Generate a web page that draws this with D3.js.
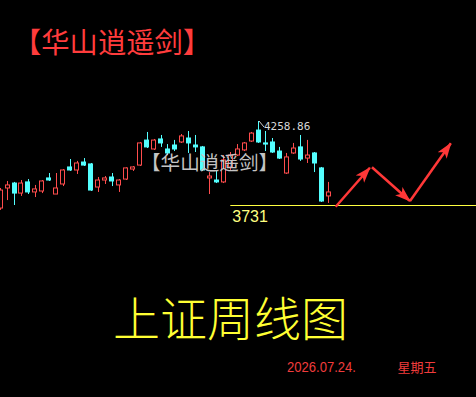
<!DOCTYPE html>
<html lang="zh">
<head>
<meta charset="utf-8">
<script src="https://cdnjs.cloudflare.com/ajax/libs/d3/7.8.5/d3.min.js"></script>
<style>
  html, body { margin: 0; padding: 0; background: #000; }
  svg { display: block; }
</style>
</head>
<body>
<div id="chart"></div>
<script>
  // weekly candles, oldest first
  const opens  = [3712,3838,3869,3806,3876,3813,3819,3901,3800,3863,3970,3951,4001,3989,3844,3888,3907,3857,3894,3957,3982,4139,4083,4146,
                  4083,4108,4127,4152,4108,4096,3901,3888,3876,3970,4045,4077,4133,4202,4121,4127,4070,3932,4058,4096,4026,4058,3964,3788];
  const closes = [3825,3857,3806,3869,3813,3832,3882,3888,3838,3951,3951,3995,3982,3825,3888,3901,3882,3888,3964,3970,4121,4096,4139,4121,
                  4058,4083,4165,4121,4096,3951,3913,3876,4014,4045,4083,4121,4183,4127,4114,4064,4026,4033,4089,4020,4045,3995,3756,3813];
  const highs  = [3838,3882,3876,3888,3894,3857,3888,3932,3932,3957,4020,4008,4026,3995,3907,3913,3932,3894,3968,3976,4127,4190,4146,4171,
                  4114,4140,4177,4196,4171,4102,3938,3951,4045,4064,4114,4127,4190,4258.86,4196,4152,4096,4058,4121,4171,4140,4064,3970,3876];
  const lows   = [3700,3762,3731,3788,3800,3781,3806,3882,3800,3850,3945,3926,3976,3819,3813,3863,3850,3813,3888,3945,3976,4089,4077,4096,
                  4045,4070,4121,4058,4064,3945,3800,3869,3869,3951,4039,4070,4127,4121,4070,4058,4020,3926,4052,4008,3995,3938,3750,3744];

  const supportLevel = 3731;
  const peakLevel = 4258.86;
  const peakIndex = 37;

  // hand-drawn forecast arrows, in candle index / price units
  const arrows = [
    { from: [48.1, 3720], to: [53.0, 3965] },
    { from: [53.3, 3968], to: [58.75, 3756] },
    { from: [58.75, 3756], to: [64.6, 4119] }
  ];

  const titleText = "【华山逍遥剑】";
  const chartName = "上证周线图";
  const dateText = "2026.07.24.";
  const weekdayText = "星期五";

  const width = 476, height = 397;
  const svg = d3.select("#chart").append("svg").attr("width", width).attr("height", height);
  svg.append("rect").attr("width", width).attr("height", height).attr("fill", "#000");

  const x = d3.scaleLinear().domain([0, 47]).range([0, 328]);
  const y = d3.scaleLinear().domain([supportLevel, peakLevel]).range([205, 121]);
  const bodyW = (x(1) - x(0)) * 0.7;

  const UP = "#ff4d4d", DOWN = "#54ffff";

  const candles = opens.map(function(o, i){
    return { i: i, open: o, close: closes[i], high: highs[i], low: lows[i], up: closes[i] >= o };
  });

  const cg = svg.append("g").attr("id", "candles");

  cg.selectAll(".wick")
    .data(candles)
    .enter()
    .append("line")
    .attr("class", "wick")
    .attr("x1", function(d){return Math.round(x(d.i)) + 0.5;})
    .attr("x2", function(d){return Math.round(x(d.i)) + 0.5;})
    .attr("y1", function(d){return y(d.high);})
    .attr("y2", function(d){return y(d.low);})
    .attr("stroke", function(d){return d.up ? UP : DOWN;})
    .attr("stroke-width", 1);

  cg.selectAll(".body")
    .data(candles)
    .enter()
    .append("rect")
    .attr("class", "body")
    .attr("x", function(d){return Math.round(x(d.i) - bodyW / 2) + 0.5;})
    .attr("y", function(d){return y(Math.max(d.open, d.close));})
    .attr("width", Math.round(bodyW) - 1)
    .attr("height", function(d){return Math.max(1, Math.abs(y(d.open) - y(d.close)));})
    .attr("fill", function(d){return d.up ? "#000" : DOWN;})
    .attr("stroke", function(d){return d.up ? UP : DOWN;})
    .attr("stroke-width", 1);

  // peak marker
  svg.append("line")
    .attr("x1", Math.round(x(peakIndex)) + 1).attr("y1", y(peakLevel))
    .attr("x2", Math.round(x(peakIndex)) + 6).attr("y2", y(peakLevel) + 6)
    .attr("stroke", "#d0d0d0").attr("stroke-width", 1);
  svg.append("text")
    .attr("x", Math.round(x(peakIndex)) + 6).attr("y", y(peakLevel) + 9)
    .attr("fill", "#d8d8d8")
    .style("font-family", "DejaVu Sans Mono")
    .style("font-size", "11px")
    .text(peakLevel.toFixed(2));

  // support line
  svg.append("line")
    .attr("x1", x(33)).attr("x2", width)
    .attr("y1", Math.round(y(supportLevel)) + 0.5).attr("y2", Math.round(y(supportLevel)) + 0.5)
    .attr("stroke", "#ffff40").attr("stroke-width", 1);
  svg.append("text")
    .attr("x", x(33) + 2).attr("y", y(supportLevel) + 17)
    .attr("fill", "#ffff80")
    .style("font-family", "Liberation Sans, Arial")
    .style("font-size", "16px")
    .text(supportLevel);

  // arrows
  const defs = svg.append("defs");
  defs.append("marker")
    .attr("id", "head")
    .attr("markerUnits", "userSpaceOnUse")
    .attr("viewBox", "0 -6 16 12")
    .attr("refX", 15).attr("refY", 0)
    .attr("markerWidth", 16).attr("markerHeight", 12)
    .attr("orient", "auto")
    .append("path")
    .attr("d", "M0,-5.5L16,0L0,5.5L4,0Z")
    .attr("fill", "#ff3838");

  svg.selectAll(".arrow")
    .data(arrows)
    .enter()
    .append("line")
    .attr("class", "arrow")
    .attr("x1", function(d){return x(d.from[0]);})
    .attr("y1", function(d){return y(d.from[1]);})
    .attr("x2", function(d){return x(d.to[0]);})
    .attr("y2", function(d){return y(d.to[1]);})
    .attr("stroke", "#ff3838")
    .attr("stroke-width", 2.5)
    .attr("marker-end", "url(#head)");

  // watermark over the candles
  svg.append("text")
    .attr("x", 141).attr("y", 170)
    .attr("fill", "#c4c4c4")
    .style("font-family", "Noto Sans CJK SC")
    .style("font-size", "19.6px")
    .text(titleText);

  svg.append("text")
    .attr("x", 13).attr("y", 53)
    .attr("fill", "#ff3c3c")
    .style("font-family", "Noto Sans CJK SC")
    .style("font-size", "28.3px")
    .text(titleText);

  svg.append("text")
    .attr("x", 113).attr("y", 336)
    .attr("fill", "#ffff33")
    .style("font-family", "Noto Sans CJK SC")
    .style("font-weight", 300)
    .style("font-size", "47px")
    .text(chartName);

  svg.append("text")
    .attr("x", 287).attr("y", 372)
    .attr("fill", "#f03c3c")
    .attr("textLength", 69).attr("lengthAdjust", "spacingAndGlyphs")
    .style("font-family", "Liberation Sans, Arial")
    .style("font-size", "14.5px")
    .text(dateText);

  svg.append("text")
    .attr("x", 397.5).attr("y", 371.5)
    .attr("fill", "#f03c3c")
    .style("font-family", "Noto Sans CJK SC")
    .style("font-size", "13px")
    .text(weekdayText);
</script>
</body>
</html>
